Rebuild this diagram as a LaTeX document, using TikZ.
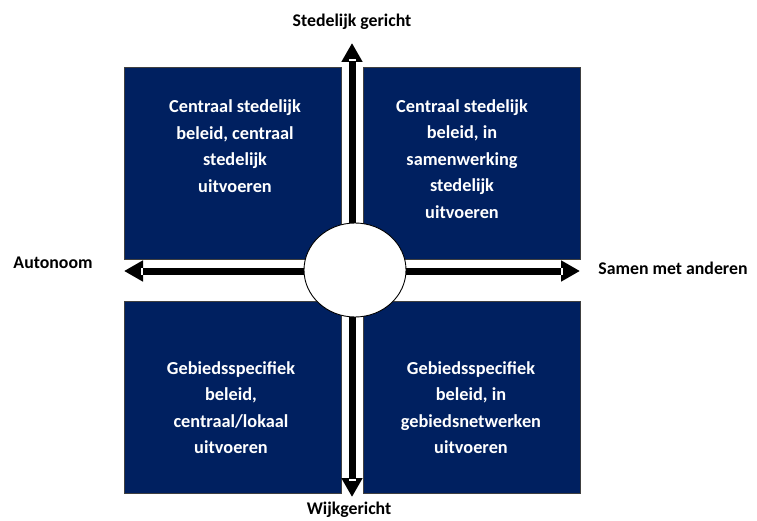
\documentclass[tikz,border=0pt]{standalone}
\usepackage{fontspec}
\setmainfont{Carlito}
\usetikzlibrary{arrows.meta,shapes.geometric,calc}
\definecolor{navy}{HTML}{002060}
\tikzset{
  quad/.style={fill=navy, draw=black!75, line width=0.8pt, minimum width=217pt, minimum height=192pt, inner sep=0pt, anchor=north west},
  quadtext/.style={text=white, align=center, font=\bfseries\fontsize{18.3}{26.5}\selectfont, inner sep=0pt},
  axislabel/.style={text=black, font=\bfseries\fontsize{17.8}{20}\selectfont, inner sep=0pt},
  axisarrow/.style={line width=7pt, black, -{Triangle[length=19pt,width=20pt]}},
  notch/.style={fill=white},
  hubstyle/.style={ellipse, draw=black, line width=0.9pt, fill=white, minimum width=102pt, minimum height=94pt, inner sep=0pt}
}
\begin{document}
\begin{tikzpicture}[x=1pt,y=-1pt]
\useasboundingbox (0,0) rectangle (757,521);
% quadrants
\node[quad] (tl) at (124,67) {};
\node[quad] (tr) at (363,67) {};
\node[quad] (bl) at (124,301) {};
\node[quad] (br) at (363,301) {};
\node[quadtext] (tltext) at (235,146) {Centraal stedelijk\\beleid, centraal\\stedelijk\\uitvoeren};
\node[quadtext] (trtext) at (462,159) {Centraal stedelijk\\beleid, in\\samenwerking\\stedelijk\\uitvoeren};
\node[quadtext] (bltext) at (231,407.5) {Gebiedsspecifiek\\beleid,\\centraal/lokaal\\uitvoeren};
\node[quadtext] (brtext) at (471,407.5) {Gebiedsspecifiek\\beleid, in\\gebiedsnetwerken\\uitvoeren};
% axes
\coordinate (o) at (352,271);
\coordinate (ntip) at (352,43);
\coordinate (stip) at (352,497);
\coordinate (wtip) at (124,271);
\coordinate (etip) at (580,271);
\draw[axisarrow] (o) -- (ntip);
\draw[axisarrow] (o) -- (stip);
\draw[axisarrow] (o) -- (wtip);
\draw[axisarrow] (o) -- (etip);
\fill[notch] ($(ntip)+(-3.5,16)$) rectangle ($(ntip)+(3.5,18)$);
\fill[notch] ($(stip)+(-3.5,-16)$) rectangle ($(stip)+(3.5,-18)$);
\fill[notch] ($(wtip)+(17,-3.5)$) rectangle ($(wtip)+(19,3.5)$);
\fill[notch] ($(etip)+(-17,-3.5)$) rectangle ($(etip)+(-19,3.5)$);
% hub
\node[hubstyle] (hub) at (355,270) {};
% labels
\node[axislabel] (top) at (352,22) {Stedelijk gericht};
\node[axislabel] (left) at (53,263) {Autonoom};
\node[axislabel] (right) at (673,268) {Samen met anderen};
\node[axislabel] (bottom) at (349,510) {Wijkgericht};
\end{tikzpicture}
\end{document}
